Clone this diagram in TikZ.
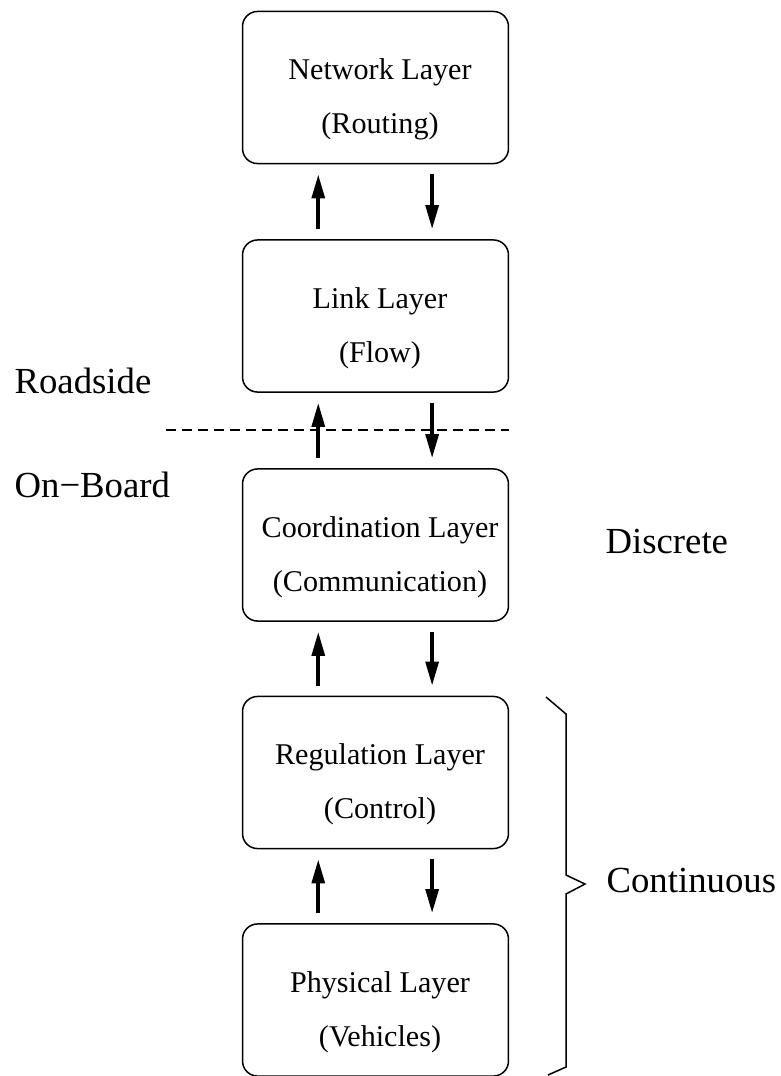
\documentclass[tikz,border=0pt]{standalone}
\usepackage{fontspec}
\setmainfont{Liberation Serif}
\usetikzlibrary{arrows.meta,positioning,calc}
\tikzset{
  box/.style={draw=black, line width=0.5pt, rounded corners=5pt, minimum width=88.3pt, minimum height=50.5pt, inner sep=0pt},
  boxtext/.style={align=center, font=\fontsize{10}{12}\selectfont, inner sep=0pt},
  arrow/.style={-{Triangle[length=8pt,width=4.2pt]}, line width=1.3pt, shorten <=3.3pt, shorten >=3.3pt},
  side/.style={font=\fontsize{12.2}{15}\selectfont, anchor=base west, inner sep=0pt}
}

\begin{document}
\begin{tikzpicture}[x=0.332pt, y=-0.332pt]
\useasboundingbox (0,0) rectangle (781,1076);
% layers
\node[box] (net) at (375.5,87.5) {};
\node[box] (link) at (375.5,316) {};
\node[box] (coord) at (375.5,545) {};
\node[box] (reg) at (375.5,772.5) {};
\node[box] (phys) at (375.5,1000) {};
\node[boxtext] (nettext) at ([xshift=1.5pt,yshift=-4pt]net.center) {Network Layer\\[6pt](Routing)};
\node[boxtext] (linktext) at ([xshift=1.5pt,yshift=-4pt]link.center) {Link Layer\\[6pt](Flow)};
\node[boxtext] (coordtext) at ([xshift=1.5pt,yshift=-4pt]coord.center) {Coordination Layer\\[6pt](Communication)};
\node[boxtext] (regtext) at ([xshift=1.5pt,yshift=-4pt]reg.center) {Regulation Layer\\[6pt](Control)};
\node[boxtext] (phystext) at ([xshift=1.5pt,yshift=-4pt]phys.center) {Physical Layer\\[6pt](Vehicles)};
% up and down
\draw[arrow] ([xshift=-19pt]link.north) -- ([xshift=-19pt]net.south);
\draw[arrow] ([xshift=18.8pt]net.south) -- ([xshift=18.8pt]link.north);
\draw[arrow] ([xshift=-19pt]coord.north) -- ([xshift=-19pt]link.south);
\draw[arrow] ([xshift=18.8pt]link.south) -- ([xshift=18.8pt]coord.north);
\draw[arrow] ([xshift=-19pt]reg.north) -- ([xshift=-19pt]coord.south);
\draw[arrow] ([xshift=18.8pt]coord.south) -- ([xshift=18.8pt]reg.north);
\draw[arrow] ([xshift=-19pt]phys.north) -- ([xshift=-19pt]reg.south);
\draw[arrow] ([xshift=18.8pt]reg.south) -- ([xshift=18.8pt]phys.north);
% roadside / on-board split
\coordinate (cut) at (166,430);
\draw[dash pattern=on 3.3pt off 2pt, line width=0.4pt] (cut) -- (cut -| link.east);
\node[side] (road) at (14,393) {Roadside};
\node[side] (board) at (14,497) {On−Board};
\node[side] (disc) at (605,553) {Discrete};
% brace
\draw[line width=0.5pt] (546,697) -- (566,714) -- (566,875) -- (585,884) -- (566,894) -- (566,1067) -- (548,1075);
\node[side] (cont) at (606,892) {Continuous};
\end{tikzpicture}
\end{document}
